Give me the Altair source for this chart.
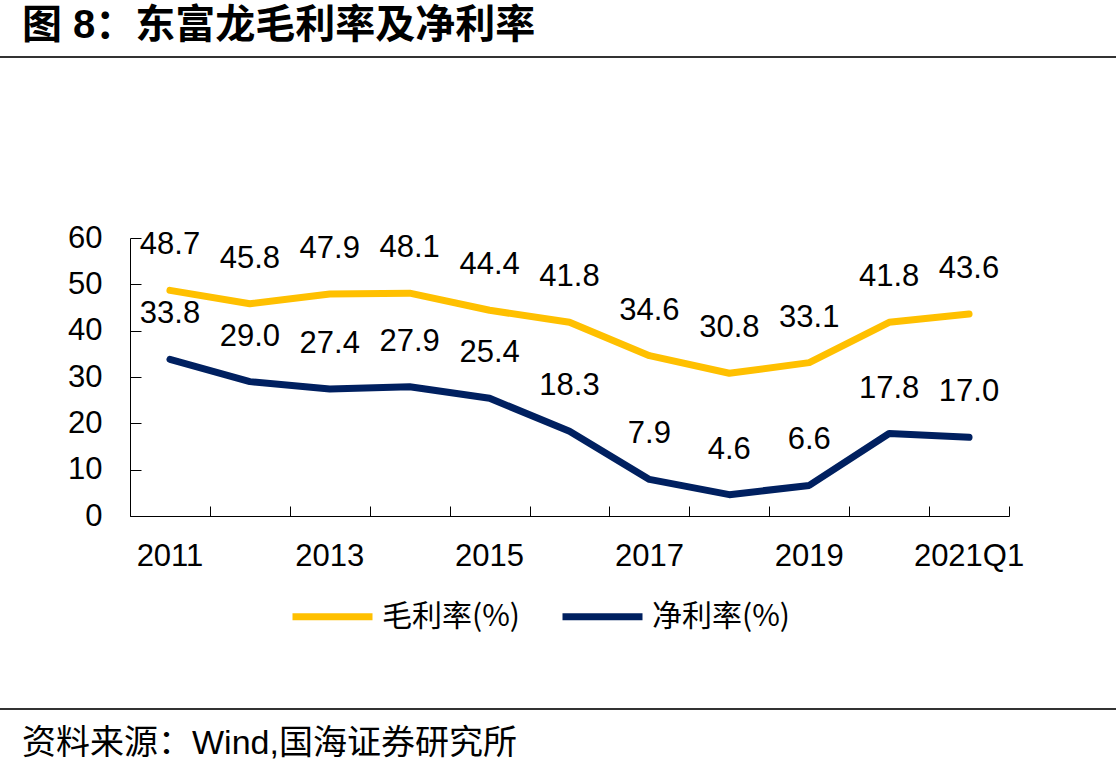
import altair as alt
import pandas as pd

categories = ["2011", "2012", "2013", "2014", "2015", "2016", "2017", "2018", "2019", "2020", "2021Q1"]
gross_margin = [48.7, 45.8, 47.9, 48.1, 44.4, 41.8, 34.6, 30.8, 33.1, 41.8, 43.6]
net_margin = [33.8, 29.0, 27.4, 27.9, 25.4, 18.3, 7.9, 4.6, 6.6, 17.8, 17.0]
series_names = ["毛利率(%)", "净利率(%)"]
series_colors = ["#FFC000", "#002060"]
shown_x_labels = ["2011", "2013", "2015", "2017", "2019", "2021Q1"]
y_ticks = [0, 10, 20, 30, 40, 50, 60]

title_text = "图 8：东富龙毛利率及净利率"
source_text = "资料来源：Wind,国海证券研究所"

rows = []
for c, g, n in zip(categories, gross_margin, net_margin):
    rows.append({"cat": c, "series": series_names[0], "value": g})
    rows.append({"cat": c, "series": series_names[1], "value": n})
df = pd.DataFrame(rows)

W, H = 879, 278
LEFT, TOP = 130, 238
FONT = "'Liberation Sans', Arial, 'Noto Sans CJK SC'"

xscale = alt.Scale(type="band", domain=categories, paddingInner=0, paddingOuter=0)
yscale = alt.Scale(domain=[0, 60], nice=False)

label_expr = "indexof(" + str(shown_x_labels) + ", datum.value) >= 0 ? datum.label : ''"

base = alt.Chart(df)

lines = base.mark_line(strokeWidth=7, strokeCap="round", strokeJoin="round").encode(
    x=alt.X("cat:N", scale=xscale, sort=categories, bandPosition=0.5,
            axis=alt.Axis(orient="bottom", title=None, ticks=False, tickSize=0, domain=True,
                          domainColor="black", domainWidth=1, labelExpr=label_expr,
                          labelFontSize=31, labelFont=FONT, labelColor="black",
                          labelPadding=25, labelAngle=0, grid=False)),
    y=alt.Y("value:Q", scale=yscale,
            axis=alt.Axis(orient="left", title=None, ticks=False, tickSize=0, domain=True,
                          domainColor="black", domainWidth=1, values=y_ticks,
                          labelFontSize=31, labelFont=FONT, labelColor="black",
                          labelPadding=28, grid=False)),
    color=alt.Color("series:N", sort=series_names,
                    scale=alt.Scale(domain=series_names, range=series_colors),
                    legend=alt.Legend(orient="none", legendX=159, legendY=335,
                                      direction="horizontal", title=None,
                                      symbolType="stroke", symbolSize=6400,
                                      symbolStrokeWidth=7, labelFontSize=30,
                                      labelFont="Noto Sans CJK SC", labelColor="black",
                                      labelOffset=6, columnPadding=28, padding=0)),
)

labels = base.mark_text(fontSize=31, font=FONT, color="black", baseline="alphabetic",
                        align="center", dy=-36).encode(
    x=alt.X("cat:N", scale=xscale, sort=categories, bandPosition=0.5, axis=None),
    y=alt.Y("value:Q", scale=yscale, axis=None),
    text=alt.Text("value:Q", format=".1f"),
)

tick_layer = base.mark_point(opacity=0).encode(
    x=alt.X("cat:N", scale=xscale, sort=categories,
            axis=alt.Axis(orient="top", offset=-H, title=None, labels=False, domain=False,
                          ticks=True, tickSize=10, tickBand="extent", tickColor="black",
                          tickWidth=1, grid=False)),
    y=alt.Y("value:Q", scale=yscale,
            axis=alt.Axis(orient="right", offset=-W, title=None, labels=False, domain=False,
                          ticks=True, tickSize=11, tickColor="black", tickWidth=1,
                          values=y_ticks, grid=False)),
)

ann = pd.DataFrame({"t": [title_text]})
title_mark = alt.Chart(ann).mark_text(fontSize=40, fontWeight="bold", font=FONT, color="black",
                                      align="left", baseline="middle").encode(
    x=alt.value(22 - LEFT), y=alt.value(26 - TOP), text="t:N")

src = pd.DataFrame({"t": [source_text]})
source_mark = alt.Chart(src).mark_text(fontSize=34, font=FONT, color="black",
                                       align="left", baseline="middle").encode(
    x=alt.value(22 - LEFT), y=alt.value(744 - TOP), text="t:N")

rule_top = alt.Chart(ann).mark_rule(color="#333333", strokeWidth=2).encode(
    x=alt.value(-LEFT), x2=alt.value(1116 - LEFT), y=alt.value(57 - TOP))
rule_bot = alt.Chart(ann).mark_rule(color="#333333", strokeWidth=2).encode(
    x=alt.value(-LEFT), x2=alt.value(1116 - LEFT), y=alt.value(709 - TOP))

chart = alt.layer(tick_layer, lines, labels, title_mark, source_mark, rule_top, rule_bot).resolve_axis(
    x="independent", y="independent"
).properties(
    width=W, height=H,
    autosize=alt.AutoSizeParams(type="none"),
    padding={"left": LEFT, "top": TOP, "right": 1116 - LEFT - W, "bottom": 775 - TOP - H},
    background="white",
).configure_view(stroke=None)

chart.save("out.html", embed_options={"renderer": "svg", "actions": False})
